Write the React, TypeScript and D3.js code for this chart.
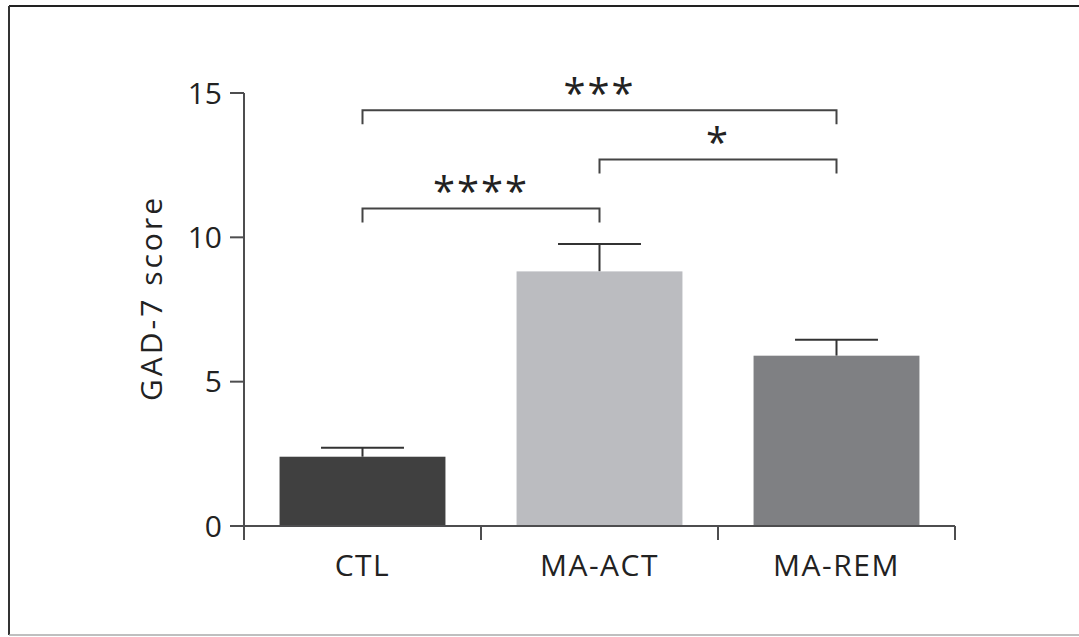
import React from 'react';
import * as d3 from 'd3';

// GAD-7 scores by group (mean and SEM)
const groups = ['CTL', 'MA-ACT', 'MA-REM'];
const means = [2.4, 8.82, 5.9];
const errors = [0.31, 0.95, 0.55];
const barColors = ['#404040', '#bbbcc0', '#7f8083'];
const yTicks = [0, 5, 10, 15];

// significance brackets: [from group, to group, label, level]
const brackets: [number, number, string, number][] = [
  [0, 1, '****', 11],
  [1, 2, '*', 12.7],
  [0, 2, '***', 14.4],
];

const W = 1079;
const H = 637;
const FONT = '"Open Sans", "Noto Sans", sans-serif';

export default function App() {
  const y = d3.scaleLinear().domain([0, 15]).range([526, 93]);
  const x = d3.scaleBand().domain(groups).range([244, 955]).paddingInner(0.3).paddingOuter(0.15);
  const bounds = d3.range(groups.length + 1).map(i => 244 + i * (955 - 244) / groups.length);
  const axisColor = '#4d4d4f';

  return (
    <svg width={W} height={H} style={{ position: 'absolute', left: 0, top: 0, background: '#fff' }}>
      {/* frame */}
      <line x1={9} y1={6} x2={W} y2={6} stroke="#222" strokeWidth={2} />
      <line x1={9} y1={6} x2={9} y2={635} stroke="#333" strokeWidth={2} />
      <line x1={9} y1={635} x2={W} y2={635} stroke="#aaa" strokeWidth={1.5} />

      {/* bars */}
      {groups.map((g, i) => {
        const bx = x(g)!;
        const bw = x.bandwidth();
        const cx = bx + bw / 2;
        return (
          <g key={g}>
            <line x1={cx} x2={cx} y1={y(means[i])} y2={y(means[i] + errors[i])} stroke="#333" strokeWidth={2} />
            <line x1={cx - bw / 4} x2={cx + bw / 4} y1={y(means[i] + errors[i])} y2={y(means[i] + errors[i])} stroke="#333" strokeWidth={2} />
            <rect x={bx} y={y(means[i])} width={bw} height={y(0) - y(means[i])} fill={barColors[i]} />
          </g>
        );
      })}

      {/* y axis */}
      <line x1={244} x2={244} y1={y(15)} y2={540} stroke={axisColor} strokeWidth={2} />
      {yTicks.map(t => (
        <g key={t}>
          <line x1={230} x2={244} y1={y(t)} y2={y(t)} stroke={axisColor} strokeWidth={2} />
          <text x={222} y={y(t)} dy="0.36em" textAnchor="end" fontFamily={FONT} fontSize={30} fill="#222">{t}</text>
        </g>
      ))}
      <text transform={`translate(162,298) rotate(-90)`} textAnchor="middle" fontFamily={FONT} fontSize={30} letterSpacing={3} fill="#222">GAD-7 score</text>

      {/* x axis */}
      <line x1={230} x2={955} y1={y(0)} y2={y(0)} stroke={axisColor} strokeWidth={2} />
      {bounds.map((b, i) => (
        <line key={i} x1={b} x2={b} y1={y(0)} y2={540} stroke={axisColor} strokeWidth={2} />
      ))}
      {groups.map(g => (
        <text key={g} x={x(g)! + x.bandwidth() / 2} y={576} textAnchor="middle" fontFamily={FONT} fontSize={30} letterSpacing={1.5} fill="#222">{g}</text>
      ))}

      {/* significance brackets */}
      {brackets.map(([a, b, label, lvl], i) => {
        const x1 = x(groups[a])! + x.bandwidth() / 2;
        const x2 = x(groups[b])! + x.bandwidth() / 2;
        const yy = y(lvl);
        return (
          <g key={i}>
            <path d={`M${x1},${yy + 14}V${yy}H${x2}V${yy + 14}`} fill="none" stroke="#444" strokeWidth={2} />
            <text x={(x1 + x2) / 2} y={yy - 2} textAnchor="middle" fontFamily={FONT} fontSize={40} letterSpacing={2} fill="#222">{label}</text>
          </g>
        );
      })}
    </svg>
  );
}
